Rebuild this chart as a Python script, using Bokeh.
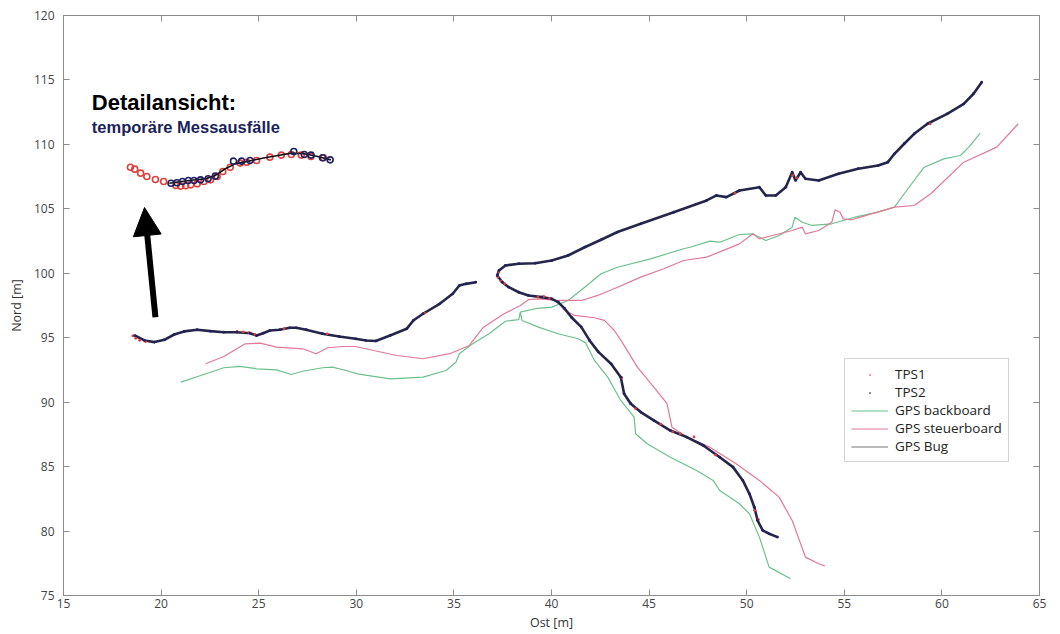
from bokeh.plotting import figure
from bokeh.models import (Range1d, LinearAxis, FixedTicker, Legend, LegendItem, Arrow, NormalHead,
                          Label, CustomLabelingPolicy)
from bokeh.embed import file_html
from bokeh.resources import INLINE

nan = float("nan")

x_ticks = [15, 20, 25, 30, 35, 40, 45, 50, 55, 60, 65]
y_ticks = [75, 80, 85, 90, 95, 100, 105, 110, 115, 120]

# GPS Bug / TPS2 track (NaN = gap)
track_x = [18.65, 19.15, 19.66, 20.17, 20.67, 21.18, 21.85, 22.53, 23.21, 23.88, 24.56, 24.89, 25.23,
           25.57, 26.08, 26.59, 26.92, 27.43, 28.27, 29.12, 29.96, 30.5, 31.0, 31.73, 32.58, 32.92,
           33.42, 34.27, 34.94, 35.28, 35.62, 36.12, nan,
           62.04, 61.62, 61.12, 60.27, 59.26, 58.58, 58.07, 57.57, 57.23, 56.73, 55.71, 54.70, 53.69,
           53.01, 52.76, 52.50, 52.33, 52.0, 51.49, 50.98, 50.65, 49.63, 48.96, 48.45, 47.95, 46.26,
           44.57, 43.38, 42.54, 41.70, 40.85, 40.01, 39.16, 38.32, 37.64, 37.31, 37.22,
           37.48, 37.81, 38.32, 38.82, 39.50, 40.01, 40.34, 40.68, 41.02, 41.53, 41.95, 42.4, 43.05,
           43.55, 43.72, 44.06, 44.57, 45.24, 46.09, 46.93, 47.78, 48.62, 49.30, 49.80, 50.14, 50.39,
           50.56, 50.82, 51.15, 51.58]
track_y = [95.17, 94.79, 94.66, 94.84, 95.25, 95.49, 95.62, 95.51, 95.43, 95.43, 95.35, 95.17, 95.35,
           95.56, 95.62, 95.77, 95.77, 95.62, 95.31, 95.10, 94.92, 94.78, 94.75, 95.17, 95.69, 96.34,
           96.86, 97.63, 98.41, 99.05, 99.18, 99.31, nan,
           114.83, 113.93, 113.15, 112.37, 111.60, 110.82, 110.05, 109.27, 108.62, 108.36, 108.11,
           107.72, 107.20, 107.33, 107.84, 107.20, 107.84, 106.68, 106.04, 106.04, 106.68, 106.42,
           105.91, 106.04, 105.65, 104.74, 103.84, 103.2, 102.6, 102.02, 101.38, 100.99, 100.78,
           100.74, 100.61, 100.22, 99.83,
           99.31, 98.92, 98.53, 98.28, 98.15, 98.02, 97.76, 97.25, 96.59, 95.82, 94.79, 93.9, 92.98,
           91.94, 90.65, 89.88, 89.23, 88.58, 87.80, 87.29, 86.64, 85.73, 84.96, 83.93, 82.89, 81.85,
           80.82, 80.05, 79.79, 79.53]

# TPS1 (red points visible beside the track)
tps1_x = [18.55, 18.7, 18.9, 19.2, 23.9, 24.2, 24.5, 24.8, 26.3, 28.5, 33.5, 37.3, 37.25, 37.4, 37.6,
          39.3, 39.6, 39.9, 43.6, 44.3, 45.6, 46.2, 46.6, 47.3, 48.4, 50.4, 50.6, 49.4, 52.35, 52.55, 59.4]
tps1_y = [95.15, 94.95, 94.8, 94.7, 95.5, 95.45, 95.4, 95.25, 95.7, 95.3, 96.9, 100.1, 99.7, 99.4, 99.2,
          98.15, 98.2, 98.05, 91.9, 89.5, 88.3, 87.7, 87.55, 87.3, 85.9, 81.6, 80.9, 106.2, 107.6, 107.4,
          111.6]

# GPS backboard (green)
gbb_x = [21.01, 22.03, 23.21, 24.05, 24.89, 25.91, 26.67, 27.26, 28.27, 28.78, 29.62, 30.05, 31.73,
         33.42, 34.60, 35.11, 35.28, 35.96, 36.80, 37.64, 38.32, 38.40, 39.16, 40.01, 40.85, 41.70,
         42.54, 43.38, 45.07, 46.76, 47.10, 48.11, 48.62, 49.63, 50.31, 50.98, 51.66, 52.33, 52.47,
         52.84, 53.35, 54.36, 55.54, 56.73, 57.57, 58.07, 59.09, 60.10, 60.95, 61.45, 61.96, nan,
         38.40, 38.49, 39.33, 40.34, 41.36, 41.75, 42.20, 42.88, 43.55, 44.23, 44.31, 44.90, 46.09,
         47.43, 48.28, 48.62, 49.63, 50.14, 50.65, 51.15, 52.25]
gbb_y = [91.55, 92.07, 92.67, 92.77, 92.59, 92.51, 92.15, 92.40, 92.67, 92.72, 92.40, 92.20, 91.81,
         91.94, 92.46, 93.11, 93.76, 94.53, 95.31, 96.28, 96.40, 96.99, 97.25, 97.37, 97.89, 98.92,
         99.96, 100.47, 101.12, 101.90, 102.02, 102.49, 102.41, 103.01, 103.06, 102.54, 102.93, 103.58,
         104.35, 103.96, 103.71, 103.84, 104.35, 104.74, 105.13, 106.17, 108.23, 108.88, 109.14,
         109.91, 110.87, nan,
         96.99, 96.34, 95.82, 95.31, 94.92, 94.6, 93.24, 91.94, 90.13, 88.84, 87.55, 86.77, 85.73,
         84.70, 83.93, 83.15, 82.12, 81.34, 79.53, 77.20, 76.30]

# GPS steuerboard (pink)
gsb_x = [22.28, 23.21, 23.88, 24.31, 25.07, 25.91, 27.26, 27.93, 28.27, 28.53, 29.29, 29.96, 30.89,
         32.07, 33.42, 34.78, 35.79, 36.5, 37.5, 38.4, 38.82, 39.33, 40.34, 41.53, 42.37, 43.38, 44.57,
         45.75, 46.76, 47.95, 49.63, 50.31, 50.65, 51.32, 52.33, 52.84, 53.01, 53.69, 54.36, 54.53,
         54.78, 54.95, 55.38, 56.39, 57.57, 58.58, 59.43, 61.12, 62.81, 63.91, nan,
         40.34, 40.68, 41.19, 42.20, 42.71, 43.22, 43.6, 44.40, 45.24, 45.92, 46.17, 46.93, 48.11,
         49.46, 50.65, 51.66, 52.33, 53.01, 53.69, 54.0]
gsb_y = [92.98, 93.54, 94.14, 94.53, 94.58, 94.27, 94.14, 93.76, 94.01, 94.22, 94.32, 94.32, 94.01,
         93.62, 93.37, 93.76, 94.40, 95.8, 96.8, 97.5, 97.95, 98.02, 97.89, 97.89, 98.28, 98.92, 99.70,
         100.35, 100.99, 101.25, 102.28, 103.06, 102.67, 102.93, 103.32, 103.58, 103.06, 103.32,
         103.96, 104.93, 104.74, 104.22, 104.15, 104.61, 105.13, 105.26, 106.17, 108.62, 109.79,
         111.60, nan,
         97.89, 97.11, 96.73, 96.55, 96.34, 95.56, 94.7, 92.72, 91.17, 89.88, 88.06, 87.29, 86.51,
         85.22, 83.93, 82.63, 80.82, 77.98, 77.46, 77.3]

# Detail view (inset) data
det_tps1_x = [18.43, 18.65, 18.95, 19.27, 19.71, 20.13, 20.76, 21.01, 21.26, 21.52, 21.85, 22.19, 22.53,
              22.87, 23.16, 23.54, 24.05, 24.39, 24.89, 25.57, 26.16, 26.67, 27.18, 27.68, 28.32]
det_tps1_y = [108.23, 108.08, 107.77, 107.51, 107.28, 107.12, 106.81, 106.76, 106.79, 106.86, 106.94,
              107.12, 107.25, 107.51, 107.90, 108.23, 108.55, 108.62, 108.75, 109.01, 109.17, 109.22,
              109.17, 109.06, 108.96]
det_tps2_x = [20.51, 20.81, 21.10, 21.40, 21.69, 22.02, 22.41, 22.78, 23.71, 24.13, 24.56, 26.80, 27.34,
              27.68, 28.27, 28.66]
det_tps2_y = [106.99, 107.02, 107.12, 107.20, 107.20, 107.25, 107.33, 107.54, 108.70, 108.70, 108.75,
              109.45, 109.22, 109.17, 108.96, 108.80]
det_bug_x = [20.42, 21.43, 22.27, 22.78, 23.29, 23.79, 24.64, 25.32, 25.99, 26.67, 27.34, 28.02, 28.70]
det_bug_y = [106.99, 107.20, 107.33, 107.59, 108.11, 108.49, 108.75, 108.96, 109.14, 109.32, 109.27,
             109.06, 108.80]

arrow_x = [19.71, 19.15]
arrow_y = [96.59, 105.10]

title_text = "Detailansicht:"
subtitle_text = "temporäre Messausfälle"

GREEN = "#6cc08c"
PINK = "#e27896"
RED = "#e0403c"
NAVY = "#1e2060"
FRAME = "#8c8c8c"
FONT = "Open Sans"

p = figure(width=1060, height=634, x_range=Range1d(15, 65), y_range=Range1d(75, 120),
           output_backend="svg", toolbar_location=None,
           min_border_left=63, min_border_right=10, min_border_top=15, min_border_bottom=39,
           x_axis_label="Ost [m]", y_axis_label="Nord [m]")
p.grid.visible = False
p.outline_line_color = FRAME
p.background_fill_color = "white"
p.border_fill_color = "white"

p.xaxis.ticker = FixedTicker(ticks=x_ticks)
p.yaxis.ticker = FixedTicker(ticks=y_ticks)
for ax in (p.xaxis[0], p.yaxis[0]):
    ax.major_tick_in = 6
    ax.major_tick_out = 0
    ax.minor_tick_line_color = None
    ax.axis_line_color = FRAME
    ax.major_tick_line_color = FRAME
    ax.major_label_text_font = FONT
    ax.major_label_text_font_size = "12px"
    ax.major_label_text_color = "#444444"
    ax.axis_label_text_font = FONT
    ax.axis_label_text_font_size = "12.5px"
    ax.axis_label_text_font_style = "normal"
    ax.axis_label_text_color = "#333333"
p.xaxis.major_label_standoff = 3
p.xaxis.axis_label_standoff = 3
p.yaxis.major_label_standoff = 9
p.yaxis.axis_label_standoff = 6

no_labels = CustomLabelingPolicy(code="""
for (const i of Array.from(indices)) { indices.unset(i) }
return indices
""")
for loc, ticks in (("above", x_ticks), ("right", y_ticks)):
    a = LinearAxis(ticker=FixedTicker(ticks=ticks), major_label_policy=no_labels,
                   major_label_standoff=0, major_tick_in=6, major_tick_out=0,
                   minor_tick_line_color=None, axis_line_color=None, major_tick_line_color=FRAME)
    p.add_layout(a, loc)

r_gbb = p.line(gbb_x, gbb_y, line_color=GREEN, line_width=1.2)
r_gsb = p.line(gsb_x, gsb_y, line_color=PINK, line_width=1.2)
r_bug = p.line(track_x, track_y, line_color="#777777", line_width=1)
p.line(track_x, track_y, line_color="#26264a", line_width=2.6)
r_tps1 = p.scatter(tps1_x, tps1_y, marker="dot", size=11, color=RED)
r_tps2 = p.scatter(track_x, track_y, marker="dot", size=11, color=NAVY)

# inset
p.scatter(det_tps1_x, det_tps1_y, marker="circle", size=6, fill_color=None, line_color=RED, line_width=1.6)
p.line(det_bug_x, det_bug_y, line_color="#111111", line_width=1.6)
p.scatter(det_tps2_x, det_tps2_y, marker="circle", size=6, fill_color=None, line_color=NAVY, line_width=1.6)

p.add_layout(Arrow(end=NormalHead(size=28, fill_color="black", line_color="black"),
                   x_start=arrow_x[0], y_start=arrow_y[0], x_end=arrow_x[1], y_end=arrow_y[1],
                   line_width=6, line_color="black"))

p.add_layout(Label(x=16.45, y=113.27, text=title_text, text_font="Liberation Sans",
                   text_font_style="bold", text_font_size="22px", text_color="black",
                   text_baseline="alphabetic"))
p.add_layout(Label(x=16.45, y=111.33, text=subtitle_text, text_font="Liberation Sans",
                   text_font_style="bold", text_font_size="16.5px", text_color="#1b1f5c",
                   text_baseline="alphabetic"))

legend = Legend(items=[LegendItem(label="TPS1", renderers=[r_tps1]),
                       LegendItem(label="TPS2", renderers=[r_tps2]),
                       LegendItem(label="GPS backboard", renderers=[r_gbb]),
                       LegendItem(label="GPS steuerboard", renderers=[r_gsb]),
                       LegendItem(label="GPS Bug", renderers=[r_bug])],
                location=(781, 133), padding=6, spacing=0, label_height=17, glyph_height=17,
                glyph_width=37, label_standoff=7, margin=0,
                label_text_font=FONT, label_text_font_size="13.5px", label_text_color="#222222",
                border_line_color="#aaaaaa", border_line_width=1, background_fill_color="white")
p.add_layout(legend, "center")

open("out.html", "w").write(file_html(p, INLINE))
